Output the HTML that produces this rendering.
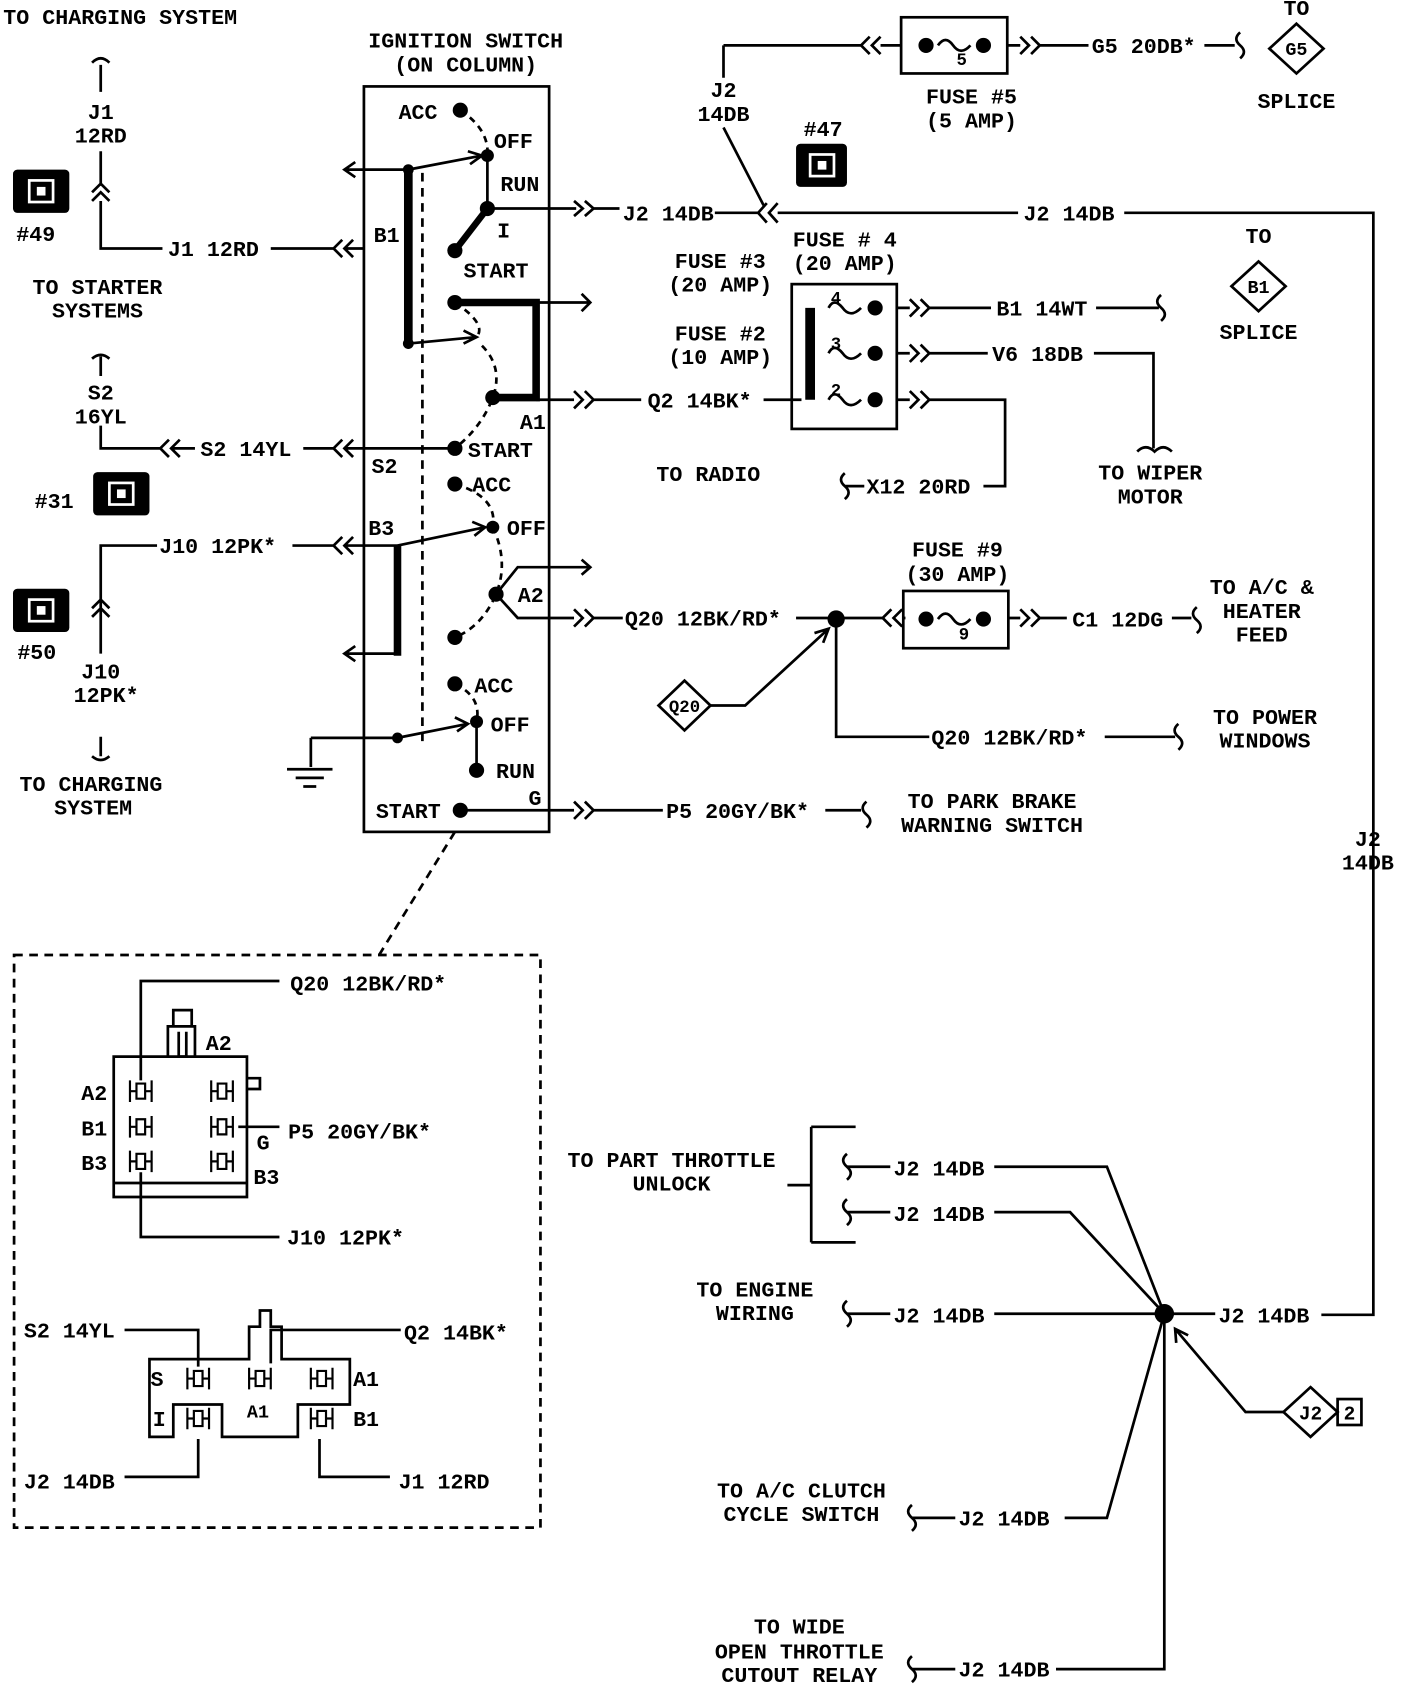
<!DOCTYPE html>
<html><head><meta charset="utf-8"><style>
html,body{margin:0;padding:0;background:#fff}
svg{display:block}
text{font-family:"Liberation Mono",monospace;font-weight:bold;font-size:20px;fill:#000}
.m{text-anchor:middle}
</style></head><body>
<svg width="1408" height="1694" viewBox="0 0 1300 1568" preserveAspectRatio="none" xmlns="http://www.w3.org/2000/svg">
<defs>
<path id="pin" d="M-10 -10V10M10 -10V10M-10 0H-4M4 0H10M-4 -7H4V7H-4Z" fill="none" stroke="#000" stroke-width="2"/>
</defs>
<g fill="none" stroke="#000" stroke-width="2.5">
<rect x="336" y="80" width="171" height="690"/>
<path d="M390 160V690" stroke-dasharray="8 6"/>
<path d="M377 157V318" stroke-width="8"/>
<path d="M377 157L445 144M377 157H318M328 150L318 157L328 164"/>
<path d="M432 140L445 144L434 152"/>
<path d="M425 102Q452 120 450 144" stroke-dasharray="6 5"/>
<path d="M450 193L420 232" stroke-width="6"/>
<path d="M450 144V193"/>
<path d="M450 193H507M507 193H532M530 186L538 193L530 200M540 186L548 193L540 200M548 193H572"/>
<path d="M660 197H700M708 188L700 197L708 206M718 188L710 197L718 206M718 197H940M1038 197H1268V1217H1220"/>
<path d="M668 42V72M668 118L705 190"/>
<path d="M336 230H318M326 222L318 230L326 238M316 222L308 230L316 238M308 230H250"/>
<path d="M420 280H495V368H455" stroke-width="7"/>
<path d="M495 280H545M537 272L545 280L537 288"/>
<path d="M377 318L440 312M428 306L440 312L428 318"/>
<path d="M420 280Q450 300 440 312M445 320Q465 340 455 368Q445 395 420 415" stroke-dasharray="6 5"/>
<path d="M495 370H530M530 362L538 370L530 378M540 362L548 370L540 378M548 370H592M705 370H740"/>
<path d="M420 415H336M336 415H318M326 407L318 415L326 423M316 407L308 415L316 423M308 415H280M180 415H158M166 407L158 415L166 423M156 407L148 415L156 423M148 415H93V394"/>
<path d="M420 448Q460 460 455 488" stroke-dasharray="6 5"/>
<path d="M367 505V607" stroke-width="7"/>
<path d="M367 505L448 488M436 483L448 488L438 496"/>
<path d="M367 605H318M328 598L318 605L328 612"/>
<path d="M455 488Q470 520 458 550Q445 580 420 590" stroke-dasharray="6 5"/>
<path d="M458 550L478 525H545M537 518L545 525L537 532M458 550L478 572H530M530 564L538 572L530 580M540 564L548 572L540 580M548 572H575M735 572H815M823 564L815 572L823 580M833 564L825 572L833 580M833 572H836M931 572H942M942 564L950 572L942 580M952 564L960 572L952 580M960 572H985M1082 572H1100"/>
<path d="M367 505H336M336 505H318M326 497L318 505L326 513M316 497L308 505L316 513M308 505H270M145 505H93V605M93 682V700"/>
<path d="M420 633Q445 645 440 668" stroke-dasharray="6 5"/>
<path d="M287 683H367L432 670M420 664L432 670L422 677M287 683V710M265 712H307M273 720H299M280 728H292"/>
<path d="M440 668V713"/>
<path d="M425 750H530M530 742L538 750L530 758M540 742L548 750L540 758M548 750H612M762 750H795"/>
<path d="M420 770L350 884" stroke-dasharray="8 6"/>
<rect x="13" y="884" width="486" height="530" stroke-dasharray="8 6"/>
<path d="M93 60V85M85 58Q93 50 101 58M85 178L93 170L101 178M85 186L93 178L101 186M93 140V172M93 186V230H150"/>
<path d="M85 332Q93 325 101 332M93 330V348"/>
<path d="M85 563L93 555L101 563M85 571L93 563L101 571M85 700Q93 707 101 700"/>
<rect x="832" y="16" width="98" height="52"/>
<path d="M668 42H795M803 34L795 42L803 50M813 34L805 42L813 50M813 42H832M930 42H942M942 34L950 42L942 50M952 34L960 42L952 50M960 42H1005M1112 42H1140M1145 30Q1138 36 1145 42Q1152 48 1145 54"/>
<path d="M866 42Q873 32 880 42Q887 52 896 42"/>
<path d="M1197 22L1222 45L1197 68L1172 45Z"/>
<rect x="731" y="263" width="97" height="134"/>
<path d="M748 285V370" stroke-width="9"/>
<path d="M765 285Q770 275 778 285Q785 295 795 285M765 327Q770 317 778 327Q785 337 795 327M765 370Q770 360 778 370Q785 380 795 370"/>
<path d="M828 285H840M840 277L848 285L840 293M850 277L858 285L850 293M858 285H915M1012 285H1070M1072 273Q1065 279 1072 285Q1079 291 1072 297"/>
<path d="M828 327H840M840 319L848 327L840 335M850 319L858 327L850 335M858 327H912M1010 327H1065V415M1050 418Q1058 410 1066 418Q1074 410 1082 418"/>
<path d="M828 370H840M840 362L848 370L840 378M850 362L858 370L850 378M858 370H928V450H908M780 438Q773 444 780 450Q787 456 780 462M780 450H798"/>
<path d="M1162 242L1187 265L1162 288L1137 265Z"/>
<rect x="834" y="547" width="97" height="53"/>
<path d="M866 573Q873 563 880 573Q887 583 896 573"/>
<path d="M1105 562Q1098 568 1105 574Q1112 580 1105 586"/>
<path d="M772 573V682H858M1020 682H1085M1088 670Q1081 676 1088 682Q1095 688 1088 694"/>
<path d="M632 630L656 653L632 676L608 653Z"/>
<path d="M656 653H688L765 582M752 586L765 582L760 595"/>
<path d="M800 742Q793 748 800 754Q807 760 800 766"/>
<path d="M1075 1216L1022 1080H918M1075 1216L988 1122H918M1075 1216H918M1075 1216H1122M1075 1216L1022 1405H983M1075 1216V1545H975"/>
<path d="M749 1043V1150M749 1043H790M749 1150H790M727 1097H749"/>
<path d="M782 1068Q775 1074 782 1080Q789 1086 782 1092M782 1110Q775 1116 782 1122Q789 1128 782 1134M782 1204Q775 1210 782 1216Q789 1222 782 1228M842 1393Q835 1399 842 1405Q849 1411 842 1417M842 1533Q835 1539 842 1545Q849 1551 842 1557"/>
<path d="M782 1080H822M782 1122H822M782 1216H822M842 1405H882M842 1545H882"/>
<path d="M1210 1284L1235 1307L1210 1330L1185 1307Z"/>
<rect x="1235" y="1295" width="22" height="24"/>
<path d="M1185 1307H1150L1085 1230M1086 1243L1085 1230L1097 1236"/>
<path d="M105 978H228V1108H105ZM105 1095H228"/>
<path d="M155 978V950H180V978M160 950V935H177V950M165 955V978H172V955"/>
<path d="M228 998H240V1008H228"/>
<path d="M130 1000V908H258M220 1043H258M130 1085V1145H258"/>
<path d="M160 1258H230V1228H240V1213H250V1228H260V1258H323V1300H275V1330H205V1300H160V1330H138V1258Z"/>
<path d="M115 1231H183V1265M370 1231H250V1262M115 1367H183V1332M360 1367H295V1332"/>
</g>
<use href="#pin" x="130" y="1010"/><use href="#pin" x="130" y="1043"/><use href="#pin" x="130" y="1075"/>
<use href="#pin" x="205" y="1010"/><use href="#pin" x="205" y="1043"/><use href="#pin" x="205" y="1075"/>
<use href="#pin" x="183" y="1276"/><use href="#pin" x="240" y="1276"/><use href="#pin" x="297" y="1276"/>
<use href="#pin" x="183" y="1313"/><use href="#pin" x="297" y="1313"/>
<g fill="#000">
<circle cx="425" cy="102" r="7"/><circle cx="450" cy="144" r="6"/><circle cx="450" cy="193" r="7"/><circle cx="420" cy="232" r="7"/>
<circle cx="377" cy="157" r="5"/><circle cx="377" cy="318" r="5"/><circle cx="420" cy="280" r="7"/><circle cx="455" cy="368" r="7"/>
<circle cx="420" cy="415" r="7"/><circle cx="420" cy="448" r="7"/><circle cx="455" cy="488" r="6"/><circle cx="458" cy="550" r="7"/><circle cx="420" cy="590" r="7"/>
<circle cx="420" cy="633" r="7"/><circle cx="440" cy="668" r="6"/><circle cx="440" cy="713" r="7"/><circle cx="425" cy="750" r="7"/><circle cx="367" cy="683" r="5"/>
<circle cx="855" cy="42" r="7"/><circle cx="908" cy="42" r="7"/><circle cx="855" cy="573" r="7"/><circle cx="908" cy="573" r="7"/>
<circle cx="808" cy="285" r="7"/><circle cx="808" cy="327" r="7"/><circle cx="808" cy="370" r="7"/>
<circle cx="772" cy="573" r="8"/><circle cx="1075" cy="1216" r="9"/>
<rect x="12" y="157" width="52" height="40" rx="4"/><rect x="86" y="437" width="52" height="40" rx="4"/><rect x="12" y="545" width="52" height="40" rx="4"/><rect x="735" y="133" width="47" height="40" rx="4"/>
</g>
<g fill="none" stroke="#fff" stroke-width="2.5">
<rect x="27" y="167" width="22" height="20"/><rect x="101" y="447" width="22" height="20"/><rect x="27" y="555" width="22" height="20"/><rect x="748" y="143" width="22" height="20"/>
</g>
<g fill="#fff"><rect x="34" y="173" width="8" height="8"/><rect x="108" y="453" width="8" height="8"/><rect x="34" y="561" width="8" height="8"/><rect x="755" y="149" width="8" height="8"/></g>
<text x="3" y="22">TO CHARGING SYSTEM</text>
<text class="m" x="430" y="44">IGNITION SWITCH</text><text class="m" x="430" y="66">(ON COLUMN)</text>
<text x="368" y="110">ACC</text><text x="456" y="137">OFF</text><text x="462" y="177">RUN</text><text x="459" y="220">I</text><text x="428" y="257">START</text>
<text x="345" y="224">B1</text><text x="480" y="397">A1</text><text x="432" y="423">START</text><text x="343" y="438">S2</text>
<text x="436" y="455">ACC</text><text x="468" y="495">OFF</text><text x="340" y="495">B3</text><text x="478" y="557">A2</text>
<text x="438" y="641">ACC</text><text x="453" y="677">OFF</text><text x="458" y="720">RUN</text><text x="347" y="757">START</text><text x="488" y="745">G</text>
<text x="575" y="204">J2 14DB</text><text x="945" y="204">J2 14DB</text>
<text class="m" x="93" y="110">J1</text><text class="m" x="93" y="132">12RD</text>
<text x="155" y="237">J1 12RD</text><text x="15" y="223">#49</text>
<text x="30" y="272">TO STARTER</text><text x="48" y="294">SYSTEMS</text>
<text class="m" x="93" y="370">S2</text><text class="m" x="93" y="392">16YL</text><text x="185" y="422">S2 14YL</text>
<text x="32" y="470">#31</text><text x="147" y="512">J10 12PK*</text><text x="16" y="610">#50</text>
<text class="m" x="93" y="628">J10</text><text class="m" x="98" y="650">12PK*</text>
<text x="18" y="732">TO CHARGING</text><text x="50" y="754">SYSTEM</text>
<text x="598" y="377">Q2 14BK*</text><text x="606" y="445">TO RADIO</text>
<text x="577" y="579">Q20 12BK/RD*</text><text x="615" y="757">P5 20GY/BK*</text>
<text x="838" y="748">TO PARK BRAKE</text><text x="832" y="770">WARNING SWITCH</text>
<text class="m" x="668" y="90">J2</text><text class="m" x="668" y="112">14DB</text>
<text class="m" x="888" y="60" style="font-size:16px">5</text>
<text class="m" x="897" y="96">FUSE #5</text><text class="m" x="897" y="118">(5 AMP)</text>
<text x="1008" y="49">G5 20DB*</text><text class="m" x="1197" y="51" style="font-size:17px">G5</text>
<text class="m" x="1197" y="14">TO</text><text class="m" x="1197" y="100">SPLICE</text>
<text class="m" x="760" y="126">#47</text>
<text class="m" x="665" y="248">FUSE #3</text><text class="m" x="665" y="270">(20 AMP)</text>
<text class="m" x="665" y="315">FUSE #2</text><text class="m" x="665" y="337">(10 AMP)</text>
<text class="m" x="780" y="228">FUSE # 4</text><text class="m" x="780" y="250">(20 AMP)</text>
<text x="767" y="281" style="font-size:16px">4</text><text x="767" y="323" style="font-size:16px">3</text><text x="767" y="366" style="font-size:16px">2</text>
<text x="920" y="292">B1 14WT</text><text x="916" y="334">V6 18DB</text><text x="800" y="457">X12 20RD</text>
<text class="m" x="1062" y="444">TO WIPER</text><text class="m" x="1062" y="466">MOTOR</text>
<text class="m" x="1162" y="225">TO</text><text class="m" x="1162" y="271" style="font-size:17px">B1</text><text class="m" x="1162" y="314">SPLICE</text>
<text class="m" x="884" y="515">FUSE #9</text><text class="m" x="884" y="538">(30 AMP)</text><text class="m" x="890" y="592" style="font-size:16px">9</text>
<text x="990" y="580">C1 12DG</text>
<text class="m" x="1165" y="550">TO A/C &amp;</text><text class="m" x="1165" y="572">HEATER</text><text class="m" x="1165" y="594">FEED</text>
<text class="m" x="632" y="659" style="font-size:16px">Q20</text>
<text x="860" y="689">Q20 12BK/RD*</text>
<text class="m" x="1168" y="670">TO POWER</text><text class="m" x="1168" y="692">WINDOWS</text>
<text class="m" x="1263" y="783">J2</text><text class="m" x="1263" y="805">14DB</text>
<text x="1125" y="1224">J2 14DB</text>
<text class="m" x="1210" y="1314" style="font-size:18px">J2</text><text class="m" x="1246" y="1314" style="font-size:18px">2</text>
<text class="m" x="620" y="1080">TO PART THROTTLE</text><text class="m" x="620" y="1102">UNLOCK</text>
<text x="825" y="1088">J2 14DB</text><text x="825" y="1130">J2 14DB</text>
<text class="m" x="697" y="1200">TO ENGINE</text><text class="m" x="697" y="1222">WIRING</text><text x="825" y="1224">J2 14DB</text>
<text class="m" x="740" y="1386">TO A/C CLUTCH</text><text class="m" x="740" y="1408">CYCLE SWITCH</text><text x="885" y="1412">J2 14DB</text>
<text class="m" x="738" y="1512">TO WIDE</text><text class="m" x="738" y="1535">OPEN THROTTLE</text><text class="m" x="738" y="1557">CUTOUT RELAY</text><text x="885" y="1552">J2 14DB</text>
<text x="268" y="917">Q20 12BK/RD*</text><text x="190" y="972">A2</text>
<text x="75" y="1018">A2</text><text x="75" y="1051">B1</text><text x="75" y="1083">B3</text>
<text x="237" y="1064">G</text><text x="234" y="1096">B3</text>
<text x="266" y="1054">P5 20GY/BK*</text><text x="265" y="1152">J10 12PK*</text>
<text x="22" y="1238">S2 14YL</text><text x="373" y="1240">Q2 14BK*</text>
<text x="139" y="1283">S</text><text x="141" y="1320">I</text><text x="326" y="1283">A1</text><text x="326" y="1320">B1</text><text x="228" y="1312" style="font-size:17px">A1</text>
<text x="22" y="1378">J2 14DB</text><text x="368" y="1378">J1 12RD</text>
</svg>
</body></html>
